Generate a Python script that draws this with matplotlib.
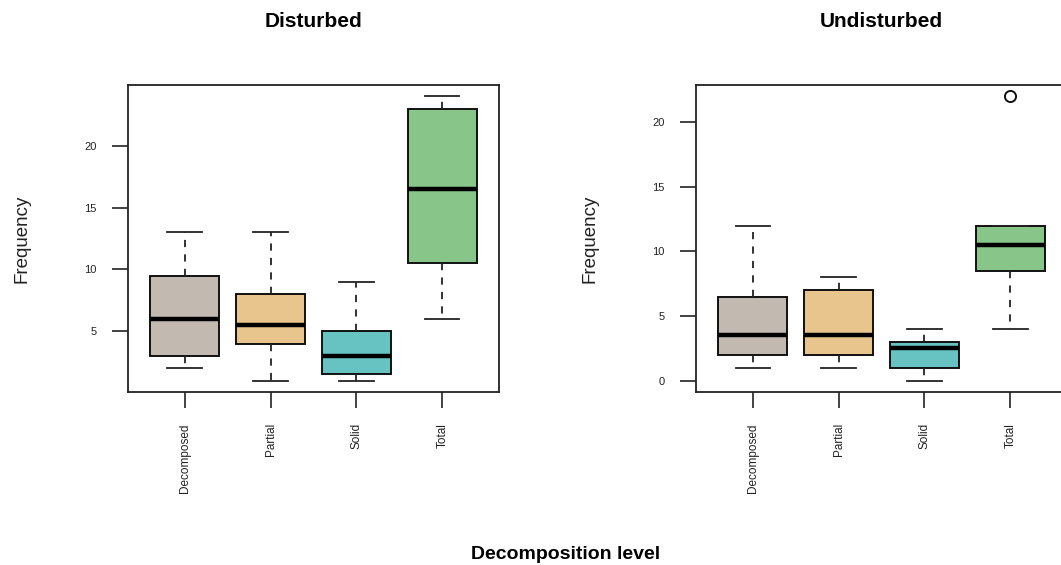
import matplotlib
matplotlib.use("Agg")
import matplotlib.pyplot as plt

plt.rcParams['font.family'] = ['Liberation Sans', 'DejaVu Sans']

levels = ["Decomposed", "Partial", "Solid", "Total"]
colors = ["#c2b9b1", "#e8c58d", "#66c3c1", "#88c588"]

# five-number summaries per level: low whisker, q1, median, q3, high whisker
dist_lo = [2, 1, 1, 6]
dist_q1 = [3, 4, 1.5, 10.5]
dist_med = [6, 5.5, 3, 16.5]
dist_q3 = [9.5, 8, 5, 23]
dist_hi = [13, 13, 9, 24]
dist_out = [[], [], [], []]

und_lo = [1, 1, 0, 4]
und_q1 = [2, 2, 1, 8.5]
und_med = [3.5, 3.5, 2.5, 10.5]
und_q3 = [6.5, 7, 3, 12]
und_hi = [12, 8, 4, 12]
und_out = [[], [], [], [22]]


def make_stats(lo, q1, med, q3, hi, out):
    stats = []
    for i in range(len(levels)):
        stats.append(dict(whislo=lo[i], q1=q1[i], med=med[i], q3=q3[i],
                          whishi=hi[i], fliers=out[i], label=levels[i]))
    return stats


def draw_panel(ax, stats, ylims, yticks):
    bp = ax.bxp(stats, positions=range(1, 5), widths=0.8, capwidths=0.4,
                patch_artist=True,
                boxprops=dict(edgecolor="#111111", linewidth=1.4),
                medianprops=dict(color="black", linewidth=3.2, solid_capstyle="butt"),
                whiskerprops=dict(color="#222222", linewidth=1.3, linestyle=(0, (4, 4))),
                capprops=dict(color="#222222", linewidth=1.3),
                flierprops=dict(marker="o", markersize=8, markerfacecolor="none",
                                markeredgecolor="#111111", markeredgewidth=1.4))
    for patch, c in zip(bp["boxes"], colors):
        patch.set_facecolor(c)
    ax.set_xlim(0.34, 4.66)
    ax.set_ylim(*ylims)
    ax.set_yticks(yticks)
    ax.set_xticks(range(1, 5))
    ax.set_xticklabels(levels, rotation=90, fontsize=8.5, color="#222222")
    ax.tick_params(axis="y", labelsize=8, labelcolor="#222222")
    ax.tick_params(length=11.5, width=1.2, color="#222222", pad=11)
    for s in ax.spines.values():
        s.set_linewidth(1.3)
        s.set_color("#222222")
    ax.set_ylabel("Frequency", fontsize=13.5, color="#222222", labelpad=39)


fig = plt.figure(figsize=(10.61, 5.65), dpi=100)
ax1 = fig.add_axes([0.1206, 0.3062, 0.3497, 0.5434])
ax2 = fig.add_axes([0.656, 0.3062, 0.3497, 0.5434])

draw_panel(ax1, make_stats(dist_lo, dist_q1, dist_med, dist_q3, dist_hi, dist_out),
           (0.08, 24.92), [5, 10, 15, 20])
draw_panel(ax2, make_stats(und_lo, und_q1, und_med, und_q3, und_hi, und_out),
           (-0.88, 22.88), [0, 5, 10, 15, 20])

fig.text(0.2955, 0.962, "Disturbed", ha="center", va="center", fontsize=15, fontweight="bold")
fig.text(0.8308, 0.962, "Undisturbed", ha="center", va="center", fontsize=15, fontweight="bold")
fig.text(0.533, 0.019, "Decomposition level", ha="center", va="center", fontsize=14, fontweight="bold")

fig.savefig("out.png", dpi=100)
